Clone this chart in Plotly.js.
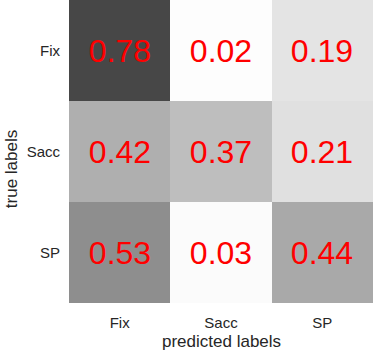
<!DOCTYPE html>
<html>
<head>
<meta charset="utf-8">
<script src="https://cdn.plot.ly/plotly-3.0.1.min.js"></script>
<style>html,body{margin:0;padding:0;background:#fff;}#chart{width:373px;height:353px;}</style>
</head>
<body>
<div id="chart"></div>
<script>
const predictedLabels = ['Fix', 'Sacc', 'SP'];
const trueLabels = ['Fix', 'Sacc', 'SP'];
const rowFix = [0.78, 0.02, 0.19];
const rowSacc = [0.42, 0.37, 0.21];
const rowSP = [0.53, 0.03, 0.44];
const xTitle = 'predicted labels';
const yTitle = 'true labels';

const greys = [[0,'#ffffff'],[0.125,'#f0f0f0'],[0.25,'#d9d9d9'],[0.375,'#bdbdbd'],[0.5,'#969696'],[0.625,'#737373'],[0.75,'#525252'],[0.875,'#252525'],[1,'#000000']];
const font = 'Liberation Sans, Arial, sans-serif';

const trace = {
  type: 'heatmap',
  x: predictedLabels,
  y: trueLabels,
  z: [rowFix, rowSacc, rowSP],
  zmin: 0, zmax: 1,
  colorscale: greys,
  showscale: false,
  texttemplate: '%{z:.2f}',
  textfont: {family: font, size: 32, color: '#ff0000'},
  hoverinfo: 'skip'
};

const layout = {
  width: 373, height: 353,
  margin: {l: 69, r: 0, t: 0, b: 50, pad: 0},
  paper_bgcolor: '#ffffff', plot_bgcolor: '#ffffff',
  font: {family: font, color: '#262626'},
  xaxis: {type: 'category', showgrid: false, zeroline: false, showline: false,
          ticks: 'outside', ticklen: 6, tickcolor: 'rgba(0,0,0,0)',
          tickfont: {size: 15, color: '#262626'}},
  yaxis: {type: 'category', autorange: 'reversed', showgrid: false, zeroline: false, showline: false,
          ticks: 'outside', ticklen: 5, tickcolor: 'rgba(0,0,0,0)',
          tickfont: {size: 15, color: '#262626'}},
  annotations: [
    {text: xTitle, xref: 'paper', yref: 'paper', x: 0.5, y: 0, yshift: -50, xanchor: 'center', yanchor: 'bottom',
     showarrow: false, font: {size: 17, color: '#262626'}},
    {text: yTitle, xref: 'paper', yref: 'paper', x: 0, xshift: -69, y: 0.44, xanchor: 'left', yanchor: 'middle',
     textangle: -90, showarrow: false, font: {size: 17, color: '#262626'}}
  ]
};

Plotly.newPlot('chart', [trace], layout, {displayModeBar: false, staticPlot: true});
</script>
</body>
</html>
